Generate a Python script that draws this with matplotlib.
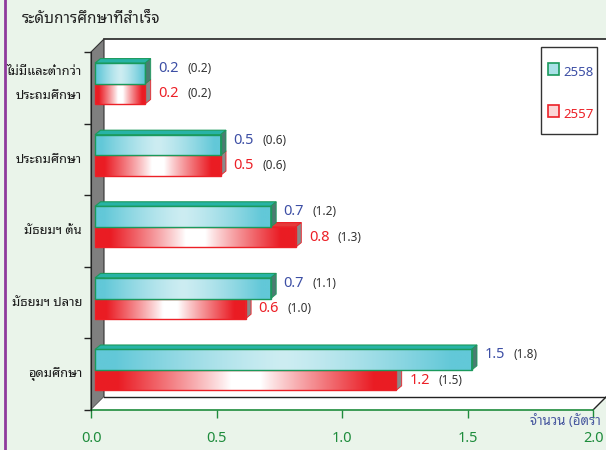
import numpy as np
import matplotlib
matplotlib.use("Agg")
import matplotlib.pyplot as plt
from matplotlib import font_manager
from matplotlib.patches import Polygon, Rectangle
from matplotlib.colors import to_rgb

# data
categories = ["ไม่มีและต่ำกว่า\nประถมศึกษา", "ประถมศึกษา", "มัธยมฯ ต้น", "มัธยมฯ ปลาย", "อุดมศึกษา"]
years = ["2558", "2557"]
val_2558 = [0.2, 0.5, 0.7, 0.7, 1.5]
val_2557 = [0.2, 0.5, 0.8, 0.6, 1.2]
paren_2558 = ["(0.2)", "(0.6)", "(1.2)", "(1.1)", "(1.8)"]
paren_2557 = ["(0.2)", "(0.6)", "(1.3)", "(1.0)", "(1.5)"]
xticks = [0.0, 0.5, 1.0, 1.5, 2.0]
title = "ระดับการศึกษาที่สำเร็จ"
xlabel = "จำนวน (อัตรา"

# thai font if there is one
avail = {f.name for f in font_manager.fontManager.ttflist}
thai = [f for f in ["Noto Sans Thai Looped", "Noto Sans Thai", "Sarabun", "Anuphan"] if f in avail]
plt.rcParams['font.family'] = thai[:1] + ['DejaVu Sans']

W, H = 606, 450
BG = '#eaf4ea'
GREEN = '#1e8c3c'
BLUE = '#3d4fa5'
RED = '#ec2027'

fig = plt.figure(figsize=(W / 100, H / 100), dpi=100, facecolor=BG)

# front plane of the 3d box in pixels
x0px, x1px, ytop, ybot = 91, 593, 52, 410
ax = fig.add_axes([x0px / W, (H - ybot) / H, (x1px - x0px) / W, (ybot - ytop) / H])
ax.set_xlim(0, 2)
ax.set_ylim(0, 5)
ax.patch.set_visible(False)
ux = (x1px - x0px) / 2.0      # px per unit x
uy = (ybot - ytop) / 5.0      # px per unit y
DX, DY = 13 / ux, 13 / uy     # box depth
BX = 4 / ux                   # bars start a bit inside
bdx, bdy = 5.5 / ux, 4.5 / uy  # bar depth

# walls
ax.add_patch(Rectangle((DX, DY), 2.5, 5, fc='white', ec='none', zorder=0, clip_on=False))
ax.plot([DX, 2.5], [5 + DY, 5 + DY], color='#222222', lw=1.2, clip_on=False, zorder=1)
ax.add_patch(Polygon([(0, 0), (DX, DY), (DX, 5 + DY), (0, 5)], closed=True,
                     fc='#7f7f7f', ec='#333333', lw=0.8, zorder=1, clip_on=False))
ax.add_patch(Polygon([(0, 0), (2, 0), (2 + DX, DY), (DX, DY)], closed=True,
                     fc='white', ec='none', zorder=1, clip_on=False))
ax.plot([DX, 2 + DX], [DY, DY], color='#222222', lw=1.0, clip_on=False, zorder=1)
ax.plot([2, 2 + DX], [0, DY], color='#222222', lw=1.0, clip_on=False, zorder=1)


def gradient(c_end, c_mid, kind):
    t = np.linspace(0, 1, 256)
    s = np.abs(2 * t - 1)
    if kind == 'red':
        m = np.clip((s - 0.1) / 0.75, 0, 1) ** 0.9
    else:
        m = np.clip(s / 0.9, 0, 1) ** 1.3
    a, b = np.array(to_rgb(c_end)), np.array(to_rgb(c_mid))
    return (b + (a - b) * m[:, None])[None, :, :]


grad_c = gradient('#62c8d8', '#cdedf2', 'cyan')
grad_r = gradient('#ea1c24', '#ffffff', 'red')


def bar3d(v, yb, h, grad, edge, topc, sidec, z):
    xa, xb = BX, BX + v
    yt = yb + h
    ax.imshow(grad, extent=(xa, xb, yb, yt), aspect='auto', zorder=z, interpolation='bilinear')
    ax.add_patch(Rectangle((xa, yb), v, h, fc='none', ec=edge, lw=1.0, zorder=z + 0.1))
    ax.add_patch(Polygon([(xa, yt), (xb, yt), (xb + bdx, yt + bdy), (xa + bdx, yt + bdy)],
                         closed=True, fc=topc, ec=edge, lw=0.8, zorder=z + 0.05))
    ax.add_patch(Polygon([(xb, yb), (xb, yt), (xb + bdx, yt + bdy), (xb + bdx, yb + bdy)],
                         closed=True, fc=sidec, ec=edge, lw=0.6, zorder=z + 0.05))


off1, off2 = 13 / ux, 42 / ux
for i, cat in enumerate(categories):
    top = 5 - i
    yc = top - 0.155 - 0.29
    yr = yc - 0.28
    z = 3 + i
    bar3d(val_2557[i], yr, 0.28, grad_r, RED, '#e43a3a', '#8a8a8a', z)
    bar3d(val_2558[i], yc, 0.29, grad_c, '#1a9a5c', '#27b3a6', '#4b7c72', z + 0.5)

    ax.text(BX + val_2558[i] + off1, yc + 0.145 + 0.07, f"{val_2558[i]:.1f}", color=BLUE,
            fontsize=10.5, va='center', ha='left', zorder=10)
    ax.text(BX + val_2558[i] + off2, yc + 0.145 + 0.07, paren_2558[i], color='#333333',
            fontsize=8.5, va='center', ha='left', zorder=10)
    ax.text(BX + val_2557[i] + off1, yr + 0.14, f"{val_2557[i]:.1f}", color=RED,
            fontsize=10.5, va='center', ha='left', zorder=10)
    ax.text(BX + val_2557[i] + off2, yr + 0.14, paren_2557[i], color='#333333',
            fontsize=8.5, va='center', ha='left', zorder=10)

    yl = top - 0.5 + (0.06 if '\n' in cat else 0)
    ax.text(-9 / (x1px - x0px), yl, cat, transform=ax.get_yaxis_transform(),
            ha='right', va='center', fontsize=9.3, color='#1a1a1a', linespacing=2.1)

# axes
for s in ['top', 'right']:
    ax.spines[s].set_visible(False)
ax.spines['bottom'].set_color(GREEN)
ax.spines['bottom'].set_linewidth(1.2)
ax.spines['bottom'].set_zorder(2)
ax.spines['left'].set_color('#222222')
ax.spines['left'].set_linewidth(0.8)
ax.set_xticks(xticks)
ax.set_xticklabels([f"{t:.1f}" for t in xticks])
ax.tick_params(axis='x', colors=GREEN, length=6, width=1, pad=9, labelsize=10.5)
ax.set_yticks(range(6))
ax.set_yticklabels([])
ax.tick_params(axis='y', colors='#222222', length=5, width=1)

# legend box
fig.patches.append(Rectangle((541 / W, (H - 134) / H), 56 / W, 87 / H, transform=fig.transFigure,
                             fc='white', ec='#333333', lw=1.0))
fig.patches.append(Rectangle((548 / W, (H - 75) / H), 11 / W, 12 / H, transform=fig.transFigure,
                             fc='#a9e1e7', ec='#1a9a5c', lw=1.2))
fig.patches.append(Rectangle((548 / W, (H - 117) / H), 11 / W, 12 / H, transform=fig.transFigure,
                             fc='#fbd6d6', ec=RED, lw=1.2))
fig.text(563 / W, 1 - 72 / H, years[0], color=BLUE, fontsize=9.5, va='center')
fig.text(563 / W, 1 - 114 / H, years[1], color=RED, fontsize=9.5, va='center')

# purple border, title, axis name
fig.add_artist(plt.Line2D([5 / W, 5 / W], [0, 1], transform=fig.transFigure, color='#8e3a9c', lw=2))
fig.text(22 / W, 1 - 19 / H, title, fontsize=11, fontweight='bold', color='#222222', va='center')
fig.text(530 / W, 1 - 421 / H, xlabel, fontsize=9.5, color='#4a5aa0', va='center')

fig.savefig("out.png", dpi=100, facecolor=BG)
